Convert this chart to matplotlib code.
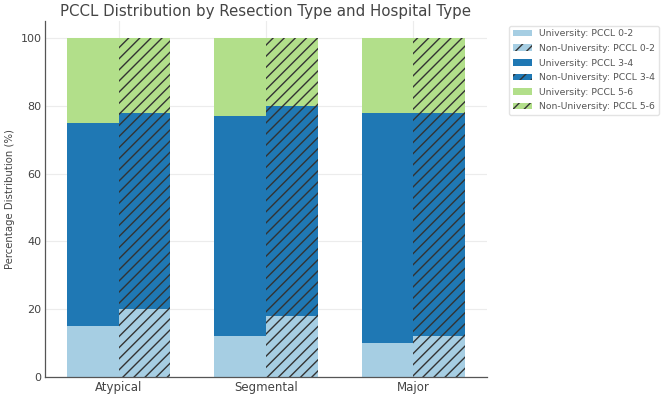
import matplotlib
matplotlib.use("Agg")
import matplotlib.pyplot as plt
import numpy as np

categories = ["Atypical", "Segmental", "Major"]
uni_0_2 = [15, 12, 10]
uni_3_4 = [60, 65, 68]
uni_5_6 = [25, 23, 22]
non_0_2 = [20, 18, 12]
non_3_4 = [58, 62, 66]
non_5_6 = [22, 20, 22]
yticks = [0, 20, 40, 60, 80, 100]

colors = ["#a6cee3", "#1f78b4", "#b2df8a"]
labels = ["PCCL 0-2", "PCCL 3-4", "PCCL 5-6"]

plt.rcParams['hatch.linewidth'] = 1.0
fig = plt.figure(figsize=(6.69, 3.97), dpi=100)
ax = fig.add_axes([0.067, 0.050, 0.661, 0.897])

x = np.arange(len(categories))
w = 0.35
uni = [uni_0_2, uni_3_4, uni_5_6]
non = [non_0_2, non_3_4, non_5_6]
bu = np.zeros(3)
bn = np.zeros(3)
for i in range(3):
    ax.bar(x - w/2, uni[i], w, bottom=bu, color=colors[i], linewidth=0,
           label=f"University: {labels[i]}", zorder=2)
    ax.bar(x + w/2, non[i], w, bottom=bn, color=colors[i], edgecolor="#333333",
           linewidth=0, hatch="///", label=f"Non-University: {labels[i]}", zorder=2)
    bu += np.array(uni[i])
    bn += np.array(non[i])

ax.set_xlim(-0.5, 2.5)
ax.set_ylim(0, 105)
ax.set_xticks(x)
ax.set_xticklabels(categories, fontsize=8.5, color="#444444")
ax.set_yticks(yticks)
ax.tick_params(axis='both', length=0, pad=2.5)
ax.tick_params(axis='y', labelsize=8, colors="#444444")
ax.set_ylabel("Percentage Distribution (%)", fontsize=7.3, color="#444444", labelpad=4)
ax.set_title("PCCL Distribution by Resection Type and Hospital Type", fontsize=10.8,
             color="#444444", pad=3.5)
ax.grid(True, color="#ececec", linewidth=0.8, zorder=0)
ax.set_axisbelow(True)
for s in ["top", "right"]:
    ax.spines[s].set_visible(False)
for s in ["left", "bottom"]:
    ax.spines[s].set_color("#555555")
    ax.spines[s].set_linewidth(0.9)

ax.legend(loc="upper left", bbox_to_anchor=(1.04, 1.0), fontsize=6.7,
          labelspacing=0.6, frameon=True, edgecolor="#dddddd", labelcolor="#555555")

fig.savefig("out.png", dpi=100)
